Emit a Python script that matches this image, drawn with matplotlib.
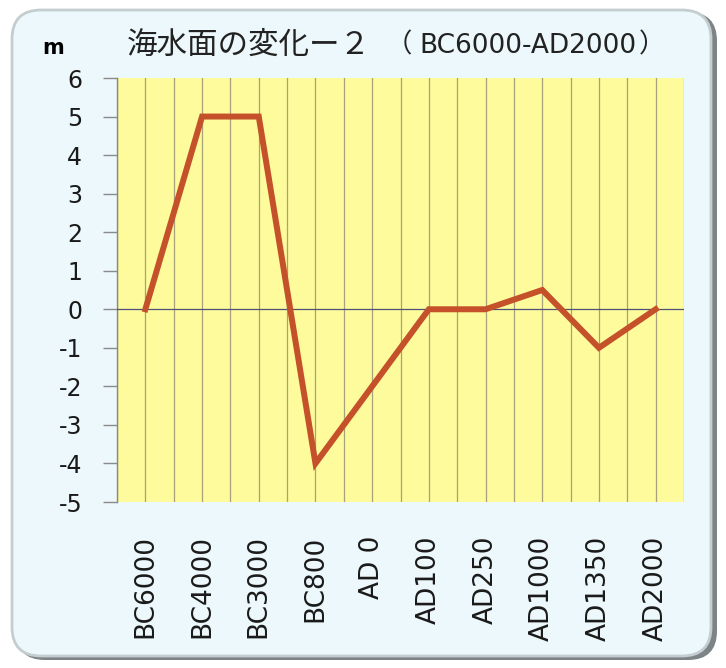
import matplotlib.pyplot as plt
import numpy as np
from matplotlib.patches import FancyBboxPatch

periods = ["BC6000", "BC4000", "BC3000", "BC800", "AD 0",
           "AD100", "AD250", "AD1000", "AD1350", "AD2000"]
sea_level = [0, 5, 5, -4, -2, 0, 0, 0.5, -1, 0]
y_ticks = [6, 5, 4, 3, 2, 1, 0, -1, -2, -3, -4, -5]

W, H = 726, 668
fig = plt.figure(figsize=(W / 100, H / 100), dpi=100)
fig.patch.set_facecolor("white")

# rounded frame with a soft shadow
shadow = FancyBboxPatch((16 / W, 8 / H), 701 / W, 648 / H,
                        boxstyle="round,pad=0,rounding_size=0.04",
                        transform=fig.transFigure, facecolor="#7d8488",
                        edgecolor="none", zorder=0, mutation_aspect=W / H)
frame = FancyBboxPatch((12 / W, 12 / H), 699 / W, 646 / H,
                       boxstyle="round,pad=0,rounding_size=0.04",
                       transform=fig.transFigure, facecolor="#ecf8fb",
                       edgecolor="#c4cdd0", linewidth=2, zorder=1,
                       mutation_aspect=W / H)
fig.patches.extend([shadow, frame])

ax = fig.add_axes([117 / W, 1 - 502 / H, 567 / W, 424 / H], zorder=2)
ax.set_facecolor("#fdfb9c")

x = np.arange(len(periods))
ax.plot(x, sea_level, color="#c4512a", linewidth=4.3, solid_joinstyle="miter", zorder=4)
ax.axhline(0, color="#505078", linewidth=0.9, zorder=3)

# vertical grid at category edges and centres
for gx in np.arange(-0.5, len(periods), 0.5):
    ax.axvline(gx, color="#a8a27a", linewidth=0.9, zorder=2)

ax.set_xlim(-0.5, len(periods) - 0.5)
ax.set_ylim(-5, 6)
ax.set_yticks(y_ticks)
ax.set_yticklabels([str(v) for v in y_ticks], fontsize=17, color="#1a1a1a")
ax.tick_params(axis="y", length=10, width=1, color="#8a8a8a", pad=15, direction="out")
ax.set_xticks(x)
ax.set_xticklabels(periods, rotation=90, fontsize=19, color="#1a1a1a")
ax.tick_params(axis="x", length=0, pad=24)

for s in ["top", "right", "bottom"]:
    ax.spines[s].set_visible(False)
ax.spines["left"].set_color("#8a8a7a")
ax.spines["left"].set_linewidth(1)

cjk = ["Noto Sans CJK JP", "DejaVu Sans"]
fig.text(42 / W, 1 - 48 / H, "m", fontsize=15, fontweight="bold", ha="left", va="center")
fig.text(127 / W, 1 - 45 / H, "海水面の変化ー２", fontsize=22,
         family=cjk, ha="left", va="center", color="#222222")
fig.text(386 / W, 1 - 45 / H, "（", fontsize=19,
         family=cjk, ha="left", va="center", color="#222222")
fig.text(419 / W, 1 - 46 / H, "BC6000-AD2000", fontsize=19,
         family=["DejaVu Sans"], ha="left", va="center", color="#222222")
fig.text(639 / W, 1 - 45 / H, "）", fontsize=19,
         family=cjk, ha="left", va="center", color="#222222")

fig.savefig("out.png", dpi=100, facecolor=fig.get_facecolor())
